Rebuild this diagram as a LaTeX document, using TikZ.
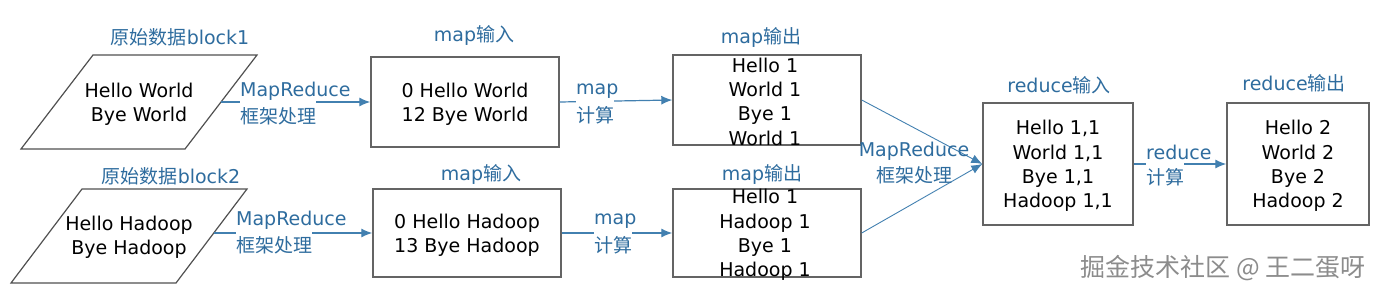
\documentclass[tikz,border=0pt]{standalone}
\usepackage{fontspec}
\setmainfont{DejaVu Sans}
\newfontfamily\cjk{Noto Sans CJK SC}
\usetikzlibrary{arrows.meta}
\definecolor{lblc}{RGB}{46,108,158}
\definecolor{linec}{RGB}{66,128,176}
\definecolor{boxc}{RGB}{100,100,100}
\definecolor{wmc}{RGB}{140,140,140}
\begin{document}
\begin{tikzpicture}[x=1pt,y=-1pt,
  box/.style={draw=boxc,line width=1.4pt,inner sep=0pt},
  para/.style={draw=boxc!80!black,line width=1.2pt},
  txt/.style={font=\fontsize{19}{24.3}\selectfont,align=center,inner sep=0pt,yshift=-2pt},
  ttl/.style={font=\fontsize{19}{24}\selectfont,text=lblc,inner sep=0pt},
  lbl/.style={font=\fontsize{19}{24}\selectfont,text=lblc,inner sep=0pt,yshift=-1pt},
  lblw/.style={lbl,fill=white,inner ysep=6pt},
  conn/.style={draw=linec,line width=1.2pt,-{Latex[length=11pt,width=9pt]}},
  thin/.style={draw=linec,line width=0.9pt,-{Latex[length=11pt,width=9pt]}},
]
\useasboundingbox (0,0) rectangle (1378,298);

% parallelograms
\coordinate (p1tl) at (93,55); \coordinate (p1tr) at (257,55);
\coordinate (p1br) at (185,149); \coordinate (p1bl) at (21,149);
\draw[para] (p1tl) -- (p1tr) -- (p1br) -- (p1bl) -- cycle;
\node[txt] (p1) at (139,102) {Hello World\\Bye World};
\coordinate (p1r) at (221,102);

\coordinate (p2tl) at (82,189); \coordinate (p2tr) at (247,189);
\coordinate (p2br) at (176,283); \coordinate (p2bl) at (11,283);
\draw[para] (p2tl) -- (p2tr) -- (p2br) -- (p2bl) -- cycle;
\node[txt] (p2) at (129,235) {Hello Hadoop\\Bye Hadoop};
\coordinate (p2r) at (214,233);

\node[ttl] (t1) at (180,37) {{\cjk 原始数据}block1};
\node[ttl] (t2) at (171,176) {{\cjk 原始数据}block2};

% map input boxes
\node[box,minimum width=188pt,minimum height=90pt] (a1) at (465,102) {};
\node[txt] (a1t) at (a1) {0 Hello World\\12 Bye World};
\node[box,minimum width=188pt,minimum height=88pt] (a2) at (467,233) {};
\node[txt] (a2t) at (a2) {0 Hello Hadoop\\13 Bye Hadoop};
\node[ttl] (ta1) at (474,35) {map{\cjk 输入}};
\node[ttl] (ta2) at (481,174) {map{\cjk 输入}};

% map output boxes
\node[box,minimum width=188pt,minimum height=90pt] (b1) at (767,100) {};
\node[txt] (b1t) at (765,99.5) {Hello 1\\World 1\\Bye 1\\World 1};
\node[box,minimum width=188pt,minimum height=88pt] (b2) at (767,233) {};
\node[txt] (b2t) at (765,233) {Hello 1\\Hadoop 1\\Bye 1\\Hadoop 1};
\node[ttl] (tb1) at (761,37) {map{\cjk 输出}};
\node[ttl] (tb2) at (762,174) {map{\cjk 输出}};

% reduce boxes
\node[box,minimum width=150pt,minimum height=122pt] (c) at (1058,164) {};
\node[txt] (ct) at (c) {Hello 1,1\\World 1,1\\Bye 1,1\\Hadoop 1,1};
\node[box,minimum width=142pt,minimum height=122pt] (d) at (1298,164) {};
\node[txt] (dt) at (d) {Hello 2\\World 2\\Bye 2\\Hadoop 2};
\node[ttl] (tc) at (1059,85) {reduce{\cjk 输入}};
\node[ttl] (td) at (1294,83) {reduce{\cjk 输出}};

% connectors
\draw[conn] (p1r) -- (a1.west);
\draw[conn] (p2r) -- (a2.west);
\draw[conn] (a1.east) -- (b1.west);
\draw[conn] (a2.east) -- (b2.west);
\draw[thin] (b1.east) -- (c.west);
\draw[thin] (b2.east) -- (c.west);
\draw[conn] (c.east) -- (d.west);

% connector labels
\node[lbl,anchor=west] (l1a) at (240,90) {MapReduce};
\node[lblw,anchor=west] (l1b) at (240,115) {\cjk 框架处理};
\node[lbl,anchor=west] (l2a) at (236,219) {MapReduce};
\node[lblw,anchor=west] (l2b) at (236,244) {\cjk 框架处理};
\node[lbl,anchor=west] (l3a) at (576,90) {map};
\node[lblw,anchor=west] (l3b) at (576,114) {\cjk 计算};
\node[lbl,anchor=west] (l4a) at (594,220) {map};
\node[lblw,anchor=west] (l4b) at (594,244) {\cjk 计算};
\node[lbl,align=center,font=\fontsize{19}{26}\selectfont] (l5) at (914,162) {MapReduce\\{\cjk 框架处理}};
\node[lbl,anchor=west] (l6a) at (1146,151) {reduce};
\node[lblw,anchor=west] (l6b) at (1146,176) {\cjk 计算};

% watermark
\node[inner sep=0pt,anchor=east,text=wmc,font=\cjk\fontsize{25}{28}\selectfont] (wm) at (1366,268) {掘金技术社区 @ 王二蛋呀};
\end{tikzpicture}
\end{document}
